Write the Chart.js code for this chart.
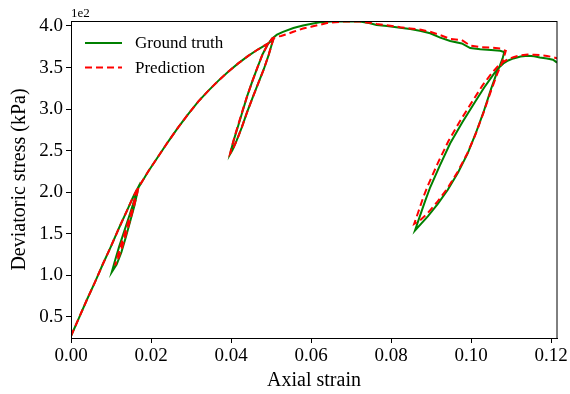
<!DOCTYPE html>
<html><head><meta charset="utf-8">
<script src="https://cdn.jsdelivr.net/npm/chart.js@4/dist/chart.umd.min.js"></script>
<style>html,body{margin:0;padding:0;background:#fff}#wrap{width:570px;height:394px}</style>
</head><body><div id="wrap"><canvas id="c" width="570" height="394"></canvas></div>
<script>
// ---- data (strain, deviatoric stress in kPa) ----
const gtStrain = [
  0, 0.002, 0.004, 0.006, 0.008, 0.010, 0.012, 0.014, 0.0155, 0.0168,
  0.0166, 0.0158, 0.0148, 0.0137, 0.0126, 0.0114, 0.0102,
  0.0109, 0.0120, 0.0133, 0.0146, 0.0158, 0.0168,
  0.0193, 0.0218, 0.0243, 0.0268, 0.0293, 0.0318, 0.0343, 0.0368, 0.0393, 0.0418, 0.0443, 0.0468, 0.0493, 0.0506,
  0.0502, 0.0494, 0.0482, 0.0468, 0.0455, 0.0440, 0.0427, 0.0414, 0.0404, 0.0398,
  0.0402, 0.0409, 0.0418, 0.0428, 0.0440, 0.0453, 0.0466, 0.0479, 0.0492, 0.0503,
  0.0515, 0.0530, 0.0556, 0.0580, 0.0605, 0.0622, 0.0650, 0.0680, 0.0722, 0.0745, 0.0764, 0.0790, 0.0823, 0.0848, 0.0875, 0.0898, 0.0923, 0.0948, 0.0977, 0.0998, 0.1023, 0.1050, 0.1073, 0.1083,
  0.1079, 0.1072, 0.1064, 0.1050, 0.1031, 0.1012, 0.0992, 0.0968, 0.0942, 0.0917, 0.0892, 0.0875, 0.0860,
  0.0872, 0.0885, 0.0898, 0.0922, 0.0948, 0.0978, 0.1008, 0.1033, 0.1058, 0.1070, 0.1081, 0.1093, 0.1106, 0.1124, 0.1142, 0.1158, 0.1172, 0.1190, 0.1205, 0.1215
];
const gtStress = [
  27, 49, 71, 92, 114, 135, 157, 178, 194, 206,
  200, 183, 165, 146, 128, 113, 104,
  116, 134, 153, 172, 190, 205,
  225, 243, 261, 278, 294, 309, 322, 334, 345, 355, 364, 372, 379, 384,
  378, 365, 348, 331, 315, 296, 278, 262, 251, 246,
  254, 266, 280, 296, 315, 333, 350, 366, 378, 385,
  389.5, 393, 397.5, 400.5, 403, 404.4, 405.5, 405.8, 405.3, 403.5, 401.3, 400, 398, 396.3, 394, 391.2, 386, 382, 379, 373.5, 372, 371, 370.2, 368.5,
  361, 352, 343, 324, 296, 271, 247, 224, 203, 186, 171, 162, 154,
  171, 189, 206, 232, 259, 284, 307, 326, 343, 350, 355, 358.5, 361, 363.3, 364.2, 363.5, 362, 361, 359.5, 356
];
const predStrain = [
  0, 0.002, 0.004, 0.006, 0.008, 0.010, 0.012, 0.014, 0.0155, 0.0168,
  0.0166, 0.0158, 0.0148, 0.0138, 0.0128, 0.0118, 0.0110,
  0.0117, 0.0127, 0.0139, 0.0151, 0.0162, 0.0170,
  0.0193, 0.0218, 0.0243, 0.0268, 0.0293, 0.0318, 0.0343, 0.0368, 0.0393, 0.0418, 0.0443, 0.0468, 0.0493, 0.0506,
  0.0502, 0.0494, 0.0482, 0.0468, 0.0455, 0.0440, 0.0427, 0.0414, 0.0404, 0.0398,
  0.0402, 0.0409, 0.0418, 0.0428, 0.0440, 0.0453, 0.0466, 0.0479, 0.0492, 0.0503,
  0.0515, 0.0525, 0.0545, 0.0556, 0.0580, 0.0600, 0.0622, 0.0640, 0.0660, 0.0680, 0.0722, 0.0745, 0.0764, 0.0790, 0.0823, 0.0848, 0.0875, 0.0898, 0.0923, 0.0948, 0.0977, 0.0998, 0.1023, 0.1050, 0.1073, 0.1087,
  0.1082, 0.1075, 0.1066, 0.1050, 0.1030, 0.1010, 0.0990, 0.0966, 0.0940, 0.0915, 0.0890, 0.0872, 0.0858,
  0.0868, 0.0880, 0.0893, 0.0917, 0.0943, 0.0973, 0.1003, 0.1028, 0.1053, 0.1066, 0.1078, 0.1092, 0.1106, 0.1124, 0.1142, 0.1158, 0.1172, 0.1190, 0.1205, 0.1215
];
const predStress = [
  27, 49, 71, 92, 114, 135, 157, 178, 194, 206,
  200, 184, 167, 150, 134, 120, 112,
  124, 140, 158, 177, 196, 207,
  225, 243, 261, 278, 294, 309, 322, 334, 345, 355, 364, 372, 379, 384,
  378, 365, 348, 331, 315, 296, 278, 262, 251, 247,
  255, 267, 281, 297, 315, 333, 350, 366, 378, 385,
  387, 388, 391, 393, 397, 399, 401.5, 403.5, 404.5, 405.3, 405.3, 404, 402.5, 401, 398.5, 397, 395.5, 393, 389, 384.5, 383, 376.5, 374.5, 374, 373, 370,
  362, 353, 343, 322, 294, 268, 246, 224, 204, 188, 174, 166, 162,
  176, 193, 209, 235, 261, 286, 309, 328, 344, 351, 356, 360, 362.5, 364.8, 365.6, 365.5, 365, 364, 362.5, 361
];
const seriesNames = ['Ground truth', 'Prediction'];
const xTickValues = [0, 0.02, 0.04, 0.06, 0.08, 0.10, 0.12];
const yTickValues = [50, 100, 150, 200, 250, 300, 350, 400];
const yOffsetText = '1e2';

// ---- chart ----
const SERIF = '"Liberation Serif", "Times New Roman", serif';
const toPts = (xs, ys) => xs.map((x, i) => ({x: x, y: ys[i]}));

const framePlugin = {
  id: 'frameAndLegend',
  afterDatasetsDraw(chart) {
    const {ctx, chartArea: a} = chart;
    ctx.save();
    ctx.strokeStyle = '#000';
    ctx.lineWidth = 1;
    ctx.strokeRect(Math.round(a.left) + 0.5, Math.round(a.top) + 0.5, Math.round(a.right - a.left) - 1 + 0.5, Math.round(a.bottom - a.top));
    // offset text
    ctx.fillStyle = '#000';
    ctx.font = '13px ' + SERIF;
    ctx.textBaseline = 'alphabetic';
    ctx.textAlign = 'left';
    ctx.fillText(yOffsetText, a.left, a.top - 4);
    // legend
    ctx.font = '17px ' + SERIF;
    ctx.textBaseline = 'middle';
    chart.data.datasets.forEach((ds, i) => {
      const yy = a.top + 22 + i * 24.5;
      ctx.beginPath();
      ctx.strokeStyle = ds.borderColor;
      ctx.lineWidth = ds.borderWidth;
      ctx.setLineDash(ds.borderDash || []);
      ctx.moveTo(a.left + 14, yy);
      ctx.lineTo(a.left + 51, yy);
      ctx.stroke();
      ctx.setLineDash([]);
      ctx.fillStyle = '#000';
      ctx.fillText(ds.label, a.left + 64, yy + 1);
    });
    ctx.restore();
  }
};

new Chart(document.getElementById('c'), {
  type: 'scatter',
  data: {
    datasets: [
      {label: seriesNames[0], order: 1, data: toPts(gtStrain, gtStress), showLine: true, borderColor: '#008000', backgroundColor: '#008000', borderWidth: 2, pointRadius: 0, tension: 0, clip: 0},
      {label: seriesNames[1], order: 0, data: toPts(predStrain, predStress), showLine: true, borderColor: '#ff0000', backgroundColor: '#ff0000', borderWidth: 2, borderDash: [7, 4], pointRadius: 0, tension: 0, clip: 0}
    ]
  },
  options: {
    responsive: false,
    animation: false,
    devicePixelRatio: 1,
    layout: {padding: {left: 0, right: 13, top: 21, bottom: 0}},
    plugins: {legend: {display: false}, tooltip: {enabled: false}},
    scales: {
      x: {
        type: 'linear', min: 0, max: 0.1215,
        afterBuildTicks: s => { s.ticks = xTickValues.map(v => ({value: v})); },
        afterFit: s => { s.height = 56; },
        ticks: {color: '#000', font: {family: SERIF, size: 19}, padding: 2, maxRotation: 0, callback: v => v.toFixed(2)},
        grid: {display: true, drawOnChartArea: false, drawTicks: true, tickLength: 5, color: '#000'},
        border: {display: true, color: '#000'},
        title: {display: true, text: 'Axial strain', color: '#000', font: {family: SERIF, size: 20}, padding: {top: 0, bottom: 1}}
      },
      y: {
        type: 'linear', min: 24.7, max: 406,
        afterBuildTicks: s => { s.ticks = yTickValues.map(v => ({value: v})); },
        afterFit: s => { s.width = 71; },
        ticks: {color: '#000', font: {family: SERIF, size: 19}, padding: 3, callback: v => (v / 100).toFixed(1)},
        grid: {display: true, drawOnChartArea: false, drawTicks: true, tickLength: 5, color: '#000'},
        border: {display: true, color: '#000'},
        title: {display: true, text: 'Deviatoric stress (kPa)', color: '#000', font: {family: SERIF, size: 20}, padding: {top: 8, bottom: 0}}
      }
    }
  },
  plugins: [framePlugin]
});
</script>
</body></html>
